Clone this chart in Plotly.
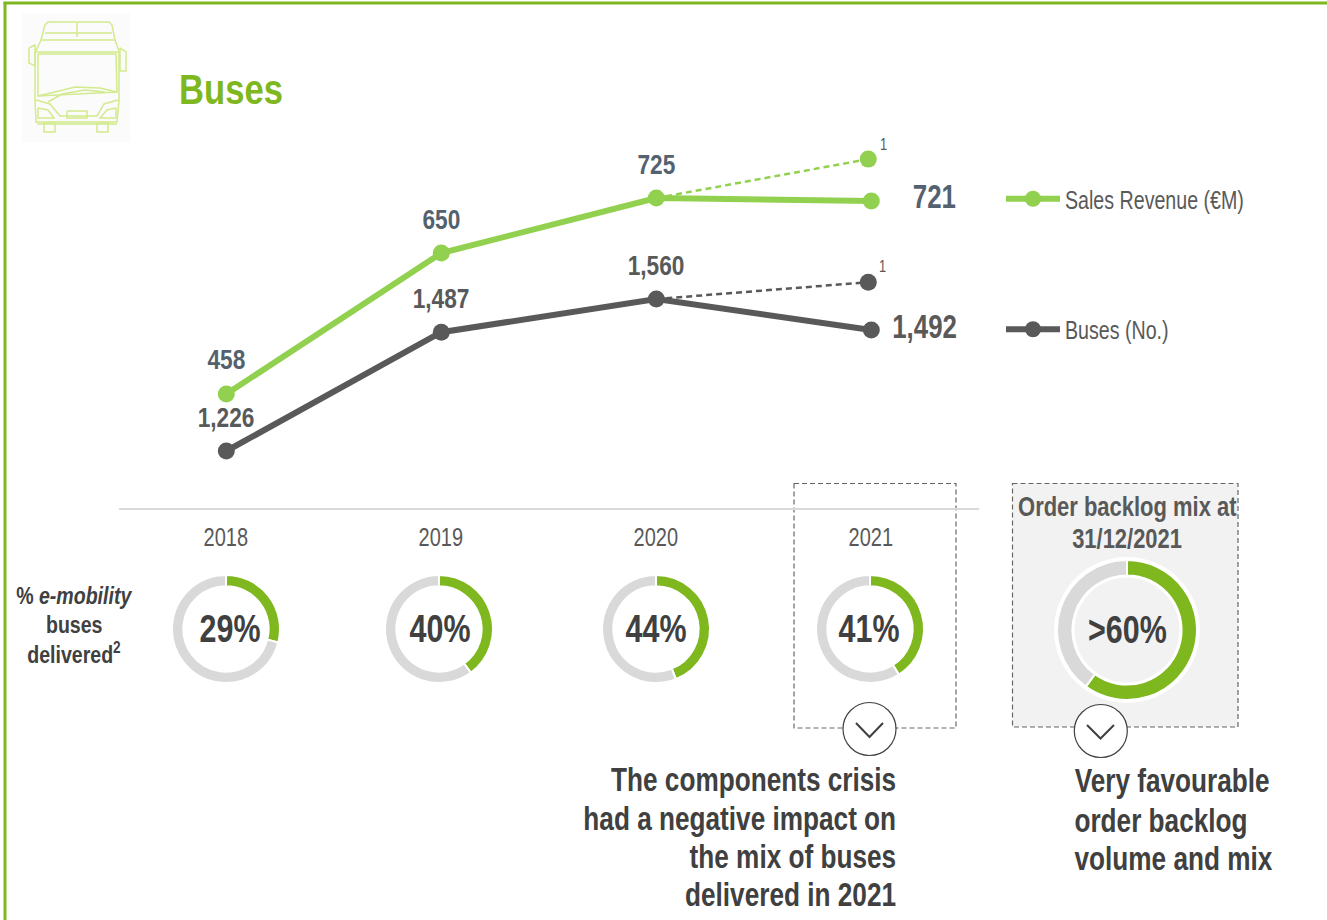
import json
import plotly.graph_objects as go

# ---------- data ----------
years = [2018, 2019, 2020, 2021]
year_labels = ["2018", "2019", "2020", "2021"]
sales_revenue = [458, 650, 725, 721]
buses_delivered = [1226, 1487, 1560, 1492]
revenue_labels = ["458", "650", "725", "721"]
buses_labels = ["1,226", "1,487", "1,560", "1,492"]
dashed_years = [2020, 2020.986]
revenue_dashed = [725, 778]
buses_dashed = [1560, 1597]
emobility_pct = [29, 40, 44, 41]
emobility_labels = ["29%", "40%", "44%", "41%"]
backlog_pct = 60
backlog_label = ">60%"
crisis_text = ["The components crisis", "had a negative impact on", "the mix of buses", "delivered in 2021"]
backlog_text = ["Very favourable", "order backlog", "volume and mix"]
backlog_title = ["Order backlog mix at", "31/12/2021"]
row_label = ["% <i>e-mobility</i>", "buses", "delivered<sup>2</sup>"]

# ---------- style ----------
W, H = 1327, 920
FONT = "Liberation Sans, Arial, sans-serif"
GREEN = "#7fb71e"
LIGHT_GREEN = "#92d14f"
DARK = "#595959"
INK = "#404040"
SLATE = "#54616e"
RING = "#d9d9d9"
ICON = "#d3ea8e"
PX_YEAR, X0 = 215.0, 226.3
REV_K, REV_Y0 = 0.734, 394.0
BUS_K, BUS_Y0 = 0.455, 451.0
condense = []  # per-annotation (glyph width factor, anchor)


def px(x):
    return x / W


def py(y):
    return 1 - y / H


def path(points, closed=False):
    s = "M " + " L ".join(f"{px(x):.5f},{py(y):.5f}" for x, y in points)
    return s + (" Z" if closed else "")


def line_shape(x0, y0, x1, y1, color, width, dash="solid"):
    return dict(type="line", xref="paper", yref="paper", x0=px(x0), y0=py(y0), x1=px(x1), y1=py(y1),
                line=dict(color=color, width=width, dash=dash))


def rect(x0, y0, x1, y1, fill="rgba(0,0,0,0)", color="rgba(0,0,0,0)", width=0, dash="solid", layer="below"):
    return dict(type="rect", xref="paper", yref="paper", x0=px(x0), y0=py(y0), x1=px(x1), y1=py(y1),
                fillcolor=fill, layer=layer, line=dict(color=color, width=width, dash=dash))


def circle(cx, cy, r, fill, color="rgba(0,0,0,0)", width=0, layer="below"):
    return dict(type="circle", xref="paper", yref="paper", x0=px(cx - r), y0=py(cy + r), x1=px(cx + r), y1=py(cy - r),
                fillcolor=fill, layer=layer, line=dict(color=color, width=width))


def open_path(points, color, width, layer="below"):
    return dict(type="path", xref="paper", yref="paper", path=path(points), layer=layer,
                line=dict(color=color, width=width))


ann = []


def text(x, y, s, size, color, bold=False, anchor="center", k=0.8):
    condense.append((k, anchor))
    ann.append(dict(xref="paper", yref="paper", x=px(x), y=py(y), text=f"<b>{s}</b>" if bold else s, showarrow=False,
                    xanchor="center", yanchor="middle", font=dict(family=FONT, size=size, color=color)))


fig = go.Figure()

# ---------- lines ----------
fig.add_trace(go.Scatter(x=dashed_years, y=revenue_dashed, yaxis="y", mode="lines+markers", showlegend=False,
                         line=dict(color=LIGHT_GREEN, width=2.5, dash="6px,4px"),
                         marker=dict(size=[1, 17], opacity=1, color=LIGHT_GREEN, line=dict(width=0))))
fig.add_trace(go.Scatter(x=dashed_years, y=buses_dashed, yaxis="y2", mode="lines+markers", showlegend=False,
                         line=dict(color=DARK, width=2.5, dash="6px,4px"),
                         marker=dict(size=[1, 17], opacity=1, color=DARK, line=dict(width=0))))
fig.add_trace(go.Scatter(x=years, y=sales_revenue, yaxis="y", mode="lines+markers", name="Sales Revenue (€M)",
                         legendgroup="a", line=dict(color=LIGHT_GREEN, width=6),
                         marker=dict(size=17, color=LIGHT_GREEN, line=dict(width=0))))
fig.add_trace(go.Scatter(x=years, y=buses_delivered, yaxis="y2", mode="lines+markers", name="Buses (No.)",
                         legendgroup="b", line=dict(color=DARK, width=6),
                         marker=dict(size=17, color=DARK, line=dict(width=0))))


# ---------- donuts ----------
def donut(value, cx, cy, r, hole):
    fig.add_trace(go.Pie(values=[value, 100 - value], sort=False, direction="clockwise", rotation=0, hole=hole,
                         textinfo="none", hoverinfo="skip", showlegend=False,
                         marker=dict(colors=[GREEN, RING], line=dict(color="white", width=2)),
                         domain=dict(x=[px(cx - r), px(cx + r)], y=[py(cy + r), py(cy - r)])))


ring_centres = [226, 439, 656, 870]
for v, cx in zip(emobility_pct, ring_centres):
    donut(v, cx, 629, 54, 0.79)
donut(backlog_pct, 1127, 630, 70, 0.78)

# ---------- shapes ----------
shapes = [
    line_shape(3.5, 3, W, 3, GREEN, 3),
    line_shape(5, 2, 5, H, GREEN, 3),
    rect(22, 13, 130, 142, fill="#fbfbfb"),
    line_shape(119, 509, 979, 509, "#d9d9d9", 2),
    rect(1012.5, 483.5, 1238, 727, fill="#f2f2f2", color="#666666", width=1.2, dash="5px,3px"),
    rect(794, 483.5, 956, 728, color="#666666", width=1.2, dash="5px,3px"),
    circle(1127, 630, 73, "white"),
    circle(1127, 630, 52.5, "#f2f2f2"),
    circle(869.5, 729, 26.5, "white", INK, 1.2, layer="above"),
    circle(1100.8, 731, 26.5, "white", INK, 1.2, layer="above"),
    open_path([(856, 723), (869.5, 737), (883, 723)], INK, 2, layer="above"),
    open_path([(1087, 725), (1100.5, 738.5), (1114, 725)], INK, 2, layer="above"),
]
# bus pictogram
bus_parts = [
    [(41, 40), (45, 25), (48, 22), (109, 22), (112, 25), (115, 40)],
    [(45, 33), (112, 33)],
    [(77, 23), (77, 37)],
    [(36, 51), (41, 40), (115, 40), (119, 51)],
    [(35, 52), (119, 52), (119, 100), (117, 122), (36, 122), (35, 100), (35, 52)],
    [(38, 54), (116, 54), (117, 92), (38, 96), (38, 54)],
    [(29, 48), (35, 45), (35, 66), (29, 63), (29, 48)],
    [(120, 48), (126, 52), (126, 71), (120, 71), (120, 48)],
    [(38, 96), (55, 92), (75, 87), (100, 88), (117, 92)],
    [(48, 102), (62, 94), (85, 90), (105, 92)],
    [(36, 100), (50, 104), (60, 116), (97, 116), (104, 104), (118, 100)],
    [(67, 111), (87, 111), (87, 118), (67, 118), (67, 111)],
    [(38, 108), (48, 110), (54, 118), (38, 118), (38, 108)],
    [(116, 108), (107, 110), (100, 118), (116, 118), (116, 108)],
    [(44, 123), (55, 123), (55, 132), (44, 132), (44, 123)],
    [(97, 123), (108, 123), (108, 132), (97, 132), (97, 123)],
    [(37, 124), (117, 124)],
]
shapes += [open_path(p, ICON, 1.5) for p in bus_parts]

# ---------- text ----------
text(179, 90, "Buses", 42, GREEN, bold=True, anchor="left", k=0.824)


def data_label(x, y, yaxis, s, size, color, xshift, yshift, k=0.81):
    condense.append((k, "center"))
    ann.append(dict(x=x, y=y, xref="x", yref=yaxis, text=f"<b>{s}</b>", showarrow=False, xshift=xshift, yshift=yshift,
                    font=dict(family=FONT, size=size, color=color)))


rev_offsets = [(0, 35), (0, 34), (0, 34), (63, 5)]
bus_offsets = [(0, 34), (0, 34), (0, 34), (53, 4)]
for i in range(4):
    big = i == 3
    k = 0.76 if big else 0.81
    data_label(years[i], sales_revenue[i], "y", revenue_labels[i], 34 if big else 28, SLATE, *rev_offsets[i], k=k)
    data_label(years[i], buses_delivered[i], "y2", buses_labels[i], 34 if big else 28, DARK, *bus_offsets[i], k=k)

text(884, 144, "1", 16, DARK)
text(882, 266, "1", 16, DARK)

for lab, cx in zip(year_labels, [226, 441, 656, 871]):
    text(cx, 537, lab, 25, DARK)
for lab, cx in zip(emobility_labels, [230, 440, 656, 869]):
    text(cx, 628, lab, 39, INK, bold=True, k=0.78)
text(1127, 629, backlog_label, 39, INK, bold=True, k=0.78)

for s, y in zip(backlog_title, [506, 538]):
    text(1127, y, s, 28, DARK, bold=True, k=0.784)
for s, y in zip(row_label, [596, 625, 653]):
    text(74, y, s, 23, INK, bold=True, k=0.85)
for s, y in zip(crisis_text, [779, 818, 856, 894]):
    text(896, y, s, 34, INK, bold=True, anchor="right", k=0.77)
for s, y in zip(backlog_text, [780, 820, 858]):
    text(1074, y, s, 34, INK, bold=True, anchor="left", k=0.77)

# ---------- layout ----------
fig.update_layout(
    width=W, height=H, margin=dict(l=0, r=0, t=0, b=0, pad=0), autosize=False,
    paper_bgcolor="white", plot_bgcolor="rgba(0,0,0,0)",
    xaxis=dict(visible=False, range=[2018 - X0 / PX_YEAR, 2018 + (W - X0) / PX_YEAR], domain=[0, 1], fixedrange=True),
    yaxis=dict(visible=False, range=[458 + (REV_Y0 - H) / REV_K, 458 + REV_Y0 / REV_K], domain=[0, 1], fixedrange=True),
    yaxis2=dict(visible=False, overlaying="y", range=[1226 + (BUS_Y0 - H) / BUS_K, 1226 + BUS_Y0 / BUS_K], fixedrange=True),
    shapes=shapes, annotations=ann,
    legend=dict(x=px(1001), y=py(176), xanchor="left", yanchor="top", bgcolor="rgba(0,0,0,0)", borderwidth=0,
                traceorder="grouped", tracegroupgap=95, itemwidth=54, itemclick=False, itemdoubleclick=False,
                font=dict(family=FONT, size=25, color=DARK)),
)

POST = """
document.body.style.margin='0';document.body.style.overflow='hidden';
var cfg=%s;
document.querySelectorAll('g.annotation').forEach(function(g){
  var c=cfg[+g.getAttribute('data-index')], t=g.querySelector('text.annotation-text');
  if(!c||!t)return;
  var w=t.getComputedTextLength();
  t.setAttribute('lengthAdjust','spacingAndGlyphs');
  t.setAttribute('textLength',w*c[0]);
  if(c[1]==='left'){t.style.textAnchor='start';}
  if(c[1]==='right'){t.style.textAnchor='end';}
});
document.querySelectorAll('text.legendtext').forEach(function(t){
  var w=t.getComputedTextLength();
  t.setAttribute('lengthAdjust','spacingAndGlyphs');
  t.setAttribute('textLength',w*0.785);
});
""" % json.dumps(condense)

fig.write_html("out.html", config=dict(displayModeBar=False), post_script=POST)
